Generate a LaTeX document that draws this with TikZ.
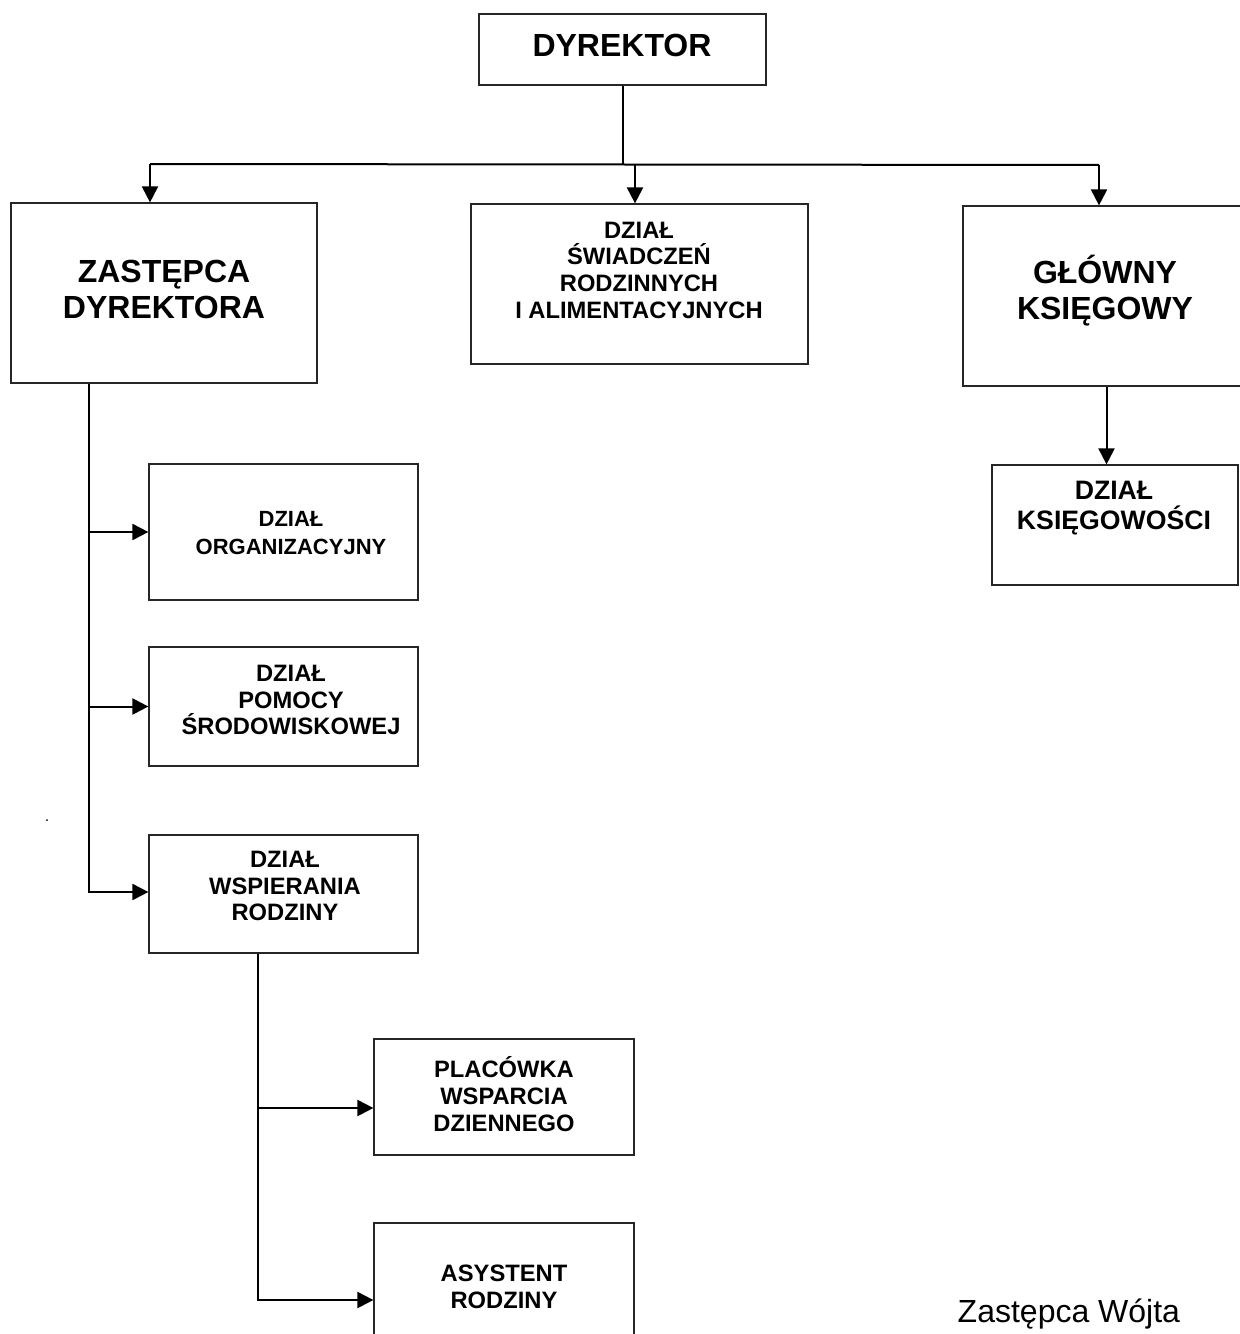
\documentclass[tikz,border=0pt]{standalone}
\usepackage{fontspec}
\setmainfont{Liberation Sans}
\usetikzlibrary{arrows.meta}
\tikzstyle{Box}=[draw=black!85, line width=0.9pt, inner sep=0pt]
\tikzstyle{Line}=[line width=1.5pt]
\tikzstyle{Arrow}=[-{Triangle[length=12pt,width=12pt]}, line width=1.5pt]
\tikzstyle{Big}=[align=center, font=\fontsize{24}{27}\selectfont\bfseries]
\tikzstyle{Small}=[align=center, font=\fontsize{17.8}{20}\selectfont\bfseries]

\begin{document}
\begin{tikzpicture}[x=0.75pt, y=-0.75pt]

    \useasboundingbox (0,0) rectangle (1239,1334);

    % boxes
    \node[Box, minimum width=215.25pt, minimum height=53.25pt] (dyr) at (622.5, 49.5) {};
    \node[Box, minimum width=229.5pt, minimum height=135pt] (zas) at (164, 293) {};
    \node[Box, minimum width=252.75pt, minimum height=120pt] (swi) at (639.5, 284) {};
    \node[Box, minimum width=215.25pt, minimum height=135pt] (glo) at (1106.5, 296) {};
    \node[Box, minimum width=184.5pt, minimum height=90pt] (ksi) at (1115, 525) {};

    \node[Box, minimum width=201.75pt, minimum height=102pt] (org) at (283.5, 532) {};
    \node[Box, minimum width=201.75pt, minimum height=89.25pt] (pom) at (283.5, 706.5) {};
    \node[Box, minimum width=201.75pt, minimum height=88.5pt] (wsp) at (283.5, 894) {};
    \node[Box, minimum width=195pt, minimum height=87pt] (pla) at (504, 1097) {};
    \node[Box, minimum width=195pt, minimum height=91.5pt] (asy) at (504, 1284) {};

    % texts
    \node[Big] (dyr-t) at (622, 45) {DYREKTOR};
    \node[Big] (zas-t) at (164, 289) {ZASTĘPCA\\DYREKTORA};
    \node[Small] (swi-t) at (639, 270) {DZIAŁ\\ŚWIADCZEŃ\\RODZINNYCH\\I ALIMENTACYJNYCH};
    \node[Big] (glo-t) at (1105, 291) {GŁÓWNY\\KSIĘGOWY};
    \node[Small, font=\fontsize{20}{23}\selectfont\bfseries] (ksi-t) at (1114, 508) {DZIAŁ\\KSIĘGOWOŚCI};
    \node[Small, font=\fontsize{16.5}{20.5}\selectfont\bfseries] (org-t) at (291, 533) {DZIAŁ\\ORGANIZACYJNY};
    \node[Small] (pom-t) at (291, 700) {DZIAŁ\\POMOCY\\ŚRODOWISKOWEJ};
    \node[Small] (wsp-t) at (285, 886) {DZIAŁ\\WSPIERANIA\\RODZINY};
    \node[Small] (pla-t) at (504, 1094) {PLACÓWKA\\WSPARCIA\\DZIENNEGO};
    \node[Small] (asy-t) at (504, 1287) {ASYSTENT\\RODZINY};
    \node[anchor=base west, font=\fontsize{24}{27}\selectfont] (note) at (953, 1322) {Zastępca Wójta};

    \fill (47, 820) circle (1);

    % top level
    \coordinate (busL) at (150, 164);
    \coordinate (busM) at (635, 165);
    \coordinate (busR) at (1099, 165);
    \draw[Line] (dyr.south) -- (dyr.south |- busL);
    \draw[Line] (busL) -- (busR);
    \draw[Arrow] (busL) -- (busL |- zas.north);
    \draw[Arrow] (busM) -- (busM |- swi.north);
    \draw[Arrow] (busR) -- (busR |- glo.north);

    \draw[Arrow] (glo.south) -- (glo.south |- ksi.north);

    % left branch
    \coordinate (zasT) at (89, 892);
    \draw[Arrow] (zas.south -| zasT) -- (zasT) -- (zasT -| wsp.west);
    \draw[Arrow] (org.west -| zasT) -- (org.west);
    \draw[Arrow] (pom.west -| zasT) -- (pom.west);

    \coordinate (wspP) at (258, 1108);
    \coordinate (wspT) at (258, 1300);
    \draw[Arrow] (wsp.south -| wspT) -- (wspT) -- (wspT -| asy.west);
    \draw[Arrow] (wspP) -- (wspP -| pla.west);

\end{tikzpicture}
\end{document}
